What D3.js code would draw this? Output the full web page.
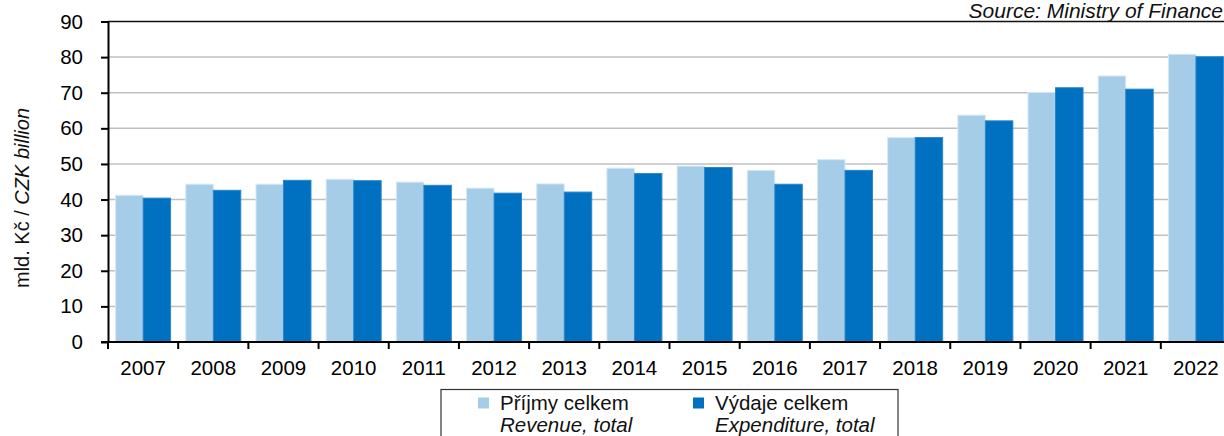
<!DOCTYPE html>
<html>
<head>
<meta charset="utf-8">
<script src="https://cdn.jsdelivr.net/npm/d3@7"></script>
<style>
  html, body { margin: 0; padding: 0; background: #fff; overflow: hidden; }
  svg { display: block; font-family: "Liberation Sans", Arial, sans-serif; }
</style>
</head>
<body>
<div id="chart"></div>
<script>
// Data
const years = ['2007', '2008', '2009', '2010', '2011', '2012', '2013', '2014',
               '2015', '2016', '2017', '2018', '2019', '2020', '2021', '2022'];
const revenue = [41.2, 44.3, 44.3, 45.7, 44.9, 43.2, 44.4, 48.8,
                 49.4, 48.2, 51.2, 57.4, 63.7, 70.1, 74.7, 80.8];
const expenditure = [40.4, 42.6, 45.4, 45.3, 44.0, 41.8, 42.1, 47.3,
                     49.0, 44.3, 48.2, 57.4, 62.1, 71.4, 71.0, 80.1];
const yTicks = [0, 10, 20, 30, 40, 50, 60, 70, 80, 90];
const seriesKeys = ['rev', 'exp'];
const legendMain = ['Příjmy celkem', 'Výdaje celkem'];
const legendSub = ['Revenue, total', 'Expenditure, total'];

const width = 1224;
const height = 436;
const margin = { top: 21.5, right: -7, bottom: 94, left: 108 };
const colors = { rev: '#a6cde8', exp: '#0070c0' };
const strokes = { rev: '#d6e8f5', exp: '#2a86cc' };
const fontSize = '20.5px';

const svg = d3.select('#chart')
    .append('svg')
    .attr('width', width)
    .attr('height', height);

const x = d3.scaleBand()
    .domain(years)
    .range([margin.left, width - margin.right])
    .paddingInner(0)
    .paddingOuter(0);

const xInner = d3.scaleBand()
    .domain(seriesKeys)
    .range([0, x.bandwidth()])
    .paddingInner(0)
    .paddingOuter(0.276);

const y = d3.scaleLinear()
    .domain([0, 90])
    .range([height - margin.bottom, margin.top]);

// Gridlines
svg.append('g')
    .selectAll('line')
    .data(yTicks.filter(d => d > 0 && d < 90))
    .enter().append('line')
    .attr('x1', margin.left)
    .attr('x2', width)
    .attr('y1', d => y(d))
    .attr('y2', d => y(d))
    .attr('stroke', '#c0c0c0')
    .attr('stroke-width', 1.5);

// Top border
svg.append('line')
    .attr('x1', margin.left)
    .attr('x2', width)
    .attr('y1', y(90))
    .attr('y2', y(90))
    .attr('stroke', '#111')
    .attr('stroke-width', 1.5);

// Bars
const rows = years.map((yr, i) => ({ year: yr, rev: revenue[i], exp: expenditure[i] }));

const groups = svg.append('g')
    .selectAll('g')
    .data(rows)
    .enter().append('g')
    .attr('transform', d => `translate(${x(d.year)},0)`);

groups.selectAll('rect')
    .data(d => seriesKeys.map(k => ({ key: k, value: d[k] })))
    .enter().append('rect')
    .attr('x', d => xInner(d.key))
    .attr('width', xInner.bandwidth())
    .attr('y', d => y(d.value))
    .attr('height', d => y(0) - y(d.value))
    .attr('fill', d => colors[d.key])
    .attr('stroke', d => strokes[d.key])
    .attr('stroke-width', 1);

// Y axis
const yAxis = d3.axisLeft(y)
    .tickValues(yTicks)
    .tickSize(7)
    .tickPadding(18)
    .tickSizeOuter(0);

const yg = svg.append('g')
    .attr('transform', `translate(${margin.left},0)`)
    .call(yAxis);
yg.select('.domain').attr('stroke', '#000').attr('stroke-width', 2);
yg.selectAll('.tick line').attr('stroke', '#000').attr('stroke-width', 2);
yg.selectAll('.tick text')
    .attr('fill', '#000')
    .style('font-size', fontSize)
    .style('font-family', '"Liberation Sans", Arial, sans-serif');

// X axis: ticks at band boundaries
svg.append('line')
    .attr('x1', margin.left - 7)
    .attr('x2', width)
    .attr('y1', y(0))
    .attr('y2', y(0))
    .attr('stroke', '#000')
    .attr('stroke-width', 2);

svg.append('g')
    .selectAll('line')
    .data(years)
    .enter().append('line')
    .attr('x1', d => x(d))
    .attr('x2', d => x(d))
    .attr('y1', y(0))
    .attr('y2', y(0) + 7)
    .attr('stroke', '#000')
    .attr('stroke-width', 2);

svg.append('g')
    .selectAll('text')
    .data(years)
    .enter().append('text')
    .attr('x', d => x(d) + x.bandwidth() / 2)
    .attr('y', y(0) + 33)
    .attr('text-anchor', 'middle')
    .style('font-size', fontSize)
    .text(d => d);

// Y axis label
const yLabel = svg.append('text')
    .attr('transform', 'translate(29,198) rotate(-90)')
    .attr('text-anchor', 'middle')
    .style('font-size', '20px')
    .attr('fill', '#111');
yLabel.append('tspan').text('mld. Kč / ');
yLabel.append('tspan').style('font-style', 'italic').text('CZK billion');

// Source
svg.append('text')
    .attr('x', 1223)
    .attr('y', 18)
    .attr('text-anchor', 'end')
    .style('font-size', '21px')
    .style('font-style', 'italic')
    .attr('fill', '#111')
    .text('Source: Ministry of Finance');

// Legend
const legend = svg.append('g');
legend.append('rect')
    .attr('x', 441)
    .attr('y', 389.5)
    .attr('width', 457)
    .attr('height', 80)
    .attr('fill', '#fff')
    .attr('stroke', '#333')
    .attr('stroke-width', 1.2);

const legendX = [478, 693];
seriesKeys.forEach((k, i) => {
    legend.append('rect')
        .attr('x', legendX[i])
        .attr('y', 397.5)
        .attr('width', 11)
        .attr('height', 11)
        .attr('fill', colors[k]);
    legend.append('text')
        .attr('x', legendX[i] + 22)
        .attr('y', 410)
        .style('font-size', fontSize)
        .attr('fill', '#111')
        .text(legendMain[i]);
    legend.append('text')
        .attr('x', legendX[i] + 22)
        .attr('y', 432)
        .style('font-size', fontSize)
        .style('font-style', 'italic')
        .attr('fill', '#111')
        .text(legendSub[i]);
});
</script>
</body>
</html>
